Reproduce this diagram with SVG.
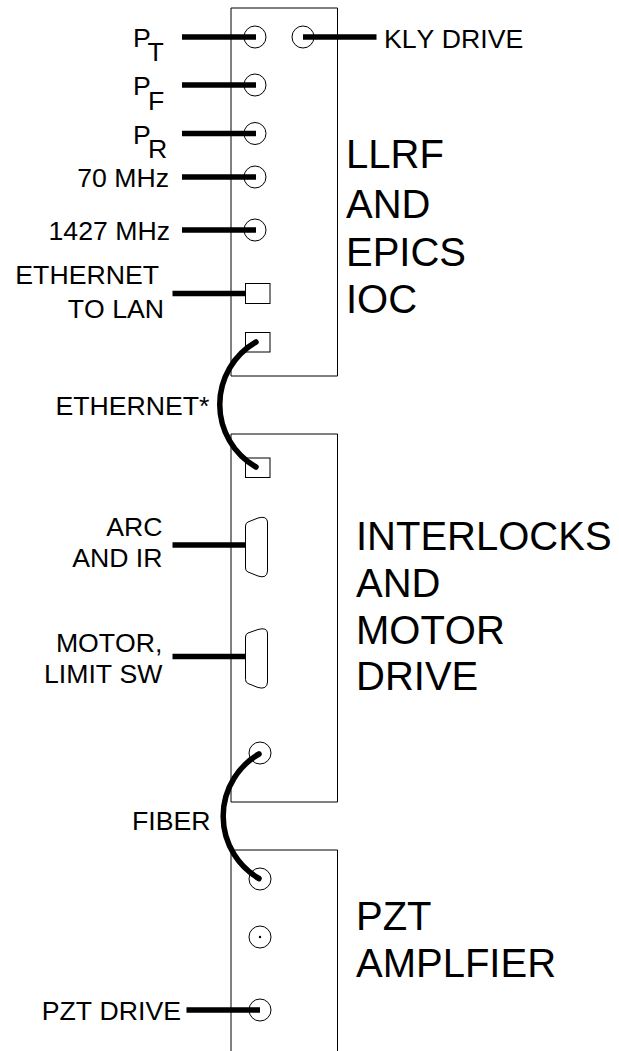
<svg xmlns="http://www.w3.org/2000/svg" width="619" height="1051" viewBox="0 0 619 1051">
<style>
text{font-family:"Liberation Sans",Arial,sans-serif;fill:#000;font-kerning:none}
.s{font-size:26.67px}
.l{font-size:40px}
.b{fill:none;stroke:#000;stroke-width:1}
.p{fill:#fff;stroke:#000;stroke-width:1}
.w{fill:none;stroke:#000;stroke-width:5.5;stroke-linecap:butt}
.c{fill:none;stroke:#000;stroke-width:5.5;stroke-linecap:round}
.e{text-anchor:end}
</style>
<rect width="619" height="1051" fill="#fff"/>
<g id="box-llrf"><path class="b" d="M231 376V8H337.5V376H231"/>
<text class="l" x="346" y="168">LLRF</text><text class="l" x="346" y="218">AND</text><text class="l" x="346" y="266">EPICS</text><text class="l" x="346" y="312.5">IOC</text></g>
<g id="box-interlocks"><path class="b" d="M231 802V434H337.5V802H231"/>
<text class="l" x="356" y="550">INTERLOCKS</text><text class="l" x="356" y="596.5">AND</text><text class="l" x="356" y="644">MOTOR</text><text class="l" x="356" y="690">DRIVE</text></g>
<g id="box-pzt"><path class="b" d="M231 1051V850H337.5V1051"/>
<text class="l" x="356" y="930">PZT</text><text class="l" x="356" y="976.5">AMPLFIER</text></g>
<g id="port-pt"><circle class="b" cx="255" cy="37" r="11"/><text class="s" x="133" y="46.5">P<tspan dx="-3.3" dy="14">T</tspan></text></g>
<g id="port-kly"><circle class="b" cx="303" cy="37" r="11"/><text class="s" x="384" y="47.5">KLY DRIVE</text></g>
<g id="port-pf"><circle class="b" cx="255" cy="85" r="11"/><text class="s" x="133" y="95">P<tspan dx="-2.8" dy="14.5">F</tspan></text></g>
<g id="port-pr"><circle class="b" cx="255" cy="133.5" r="11"/><text class="s" x="133" y="143.5">P<tspan dx="-2.8" dy="14">R</tspan></text></g>
<g id="port-70"><circle class="b" cx="255" cy="177" r="11"/><text class="s e" x="169" y="186.5">70 MHz</text></g>
<g id="port-1427"><circle class="b" cx="255" cy="230" r="11"/><text class="s e" x="170" y="239.5">1427 MHz</text></g>
<g id="port-lan"><rect class="p" x="245.5" y="283.5" width="24.5" height="20"/><text class="s e" x="159" y="283.5">ETHERNET</text><text class="s e" x="164" y="317.5">TO LAN</text></g>
<g id="port-eth1"><rect class="p" x="245.5" y="332.5" width="24.5" height="19.5"/></g>
<g id="port-eth2"><rect class="p" x="245.5" y="458" width="24.5" height="19.5"/></g>
<g id="port-arc"><path class="p" d="M245.5 526Q245.5 523 248 522L258 518Q267 515.5 267.5 522V571Q267 579 258 576L248 572Q245.5 571 245.5 568Z"/><text class="s e" x="162.5" y="536">ARC</text><text class="s e" x="162.5" y="566.5">AND IR</text></g>
<g id="port-motor"><path class="p" d="M245.5 637Q245.5 634 248 633L258 629.5Q267 627 267.5 633V682Q267 690 258 687.5L248 683.5Q245.5 682.5 245.5 679.5Z"/><text class="s e" x="162.5" y="651.5">MOTOR,</text><text class="s e" x="162.5" y="682.5">LIMIT SW</text></g>
<g id="port-fiber1"><circle class="b" cx="260" cy="753" r="11"/></g>
<g id="port-fiber2"><circle class="b" cx="260" cy="879" r="11"/></g>
<g id="port-mid"><circle class="b" cx="260" cy="937" r="11"/><circle cx="260" cy="937" r="1.2" fill="#000"/></g>
<g id="port-pzt"><circle class="b" cx="260" cy="1010" r="11"/><text class="s e" x="181" y="1020">PZT DRIVE</text></g>
<text class="s e" x="209.5" y="414.5">ETHERNET*</text>
<text class="s e" x="210.5" y="830">FIBER</text>
<g id="connectors">
<path class="w" d="M182 37H256M303 37H376.5M182 85H256M182 133.5H256M182 177H256M182 230H256M172.5 293.5H245M172.5 545H245M172.5 656.5H245M186.5 1010H260"/>
<path class="c" d="M256 342A72 72 0 0 0 256 467"/>
<path class="c" d="M259 754A72 72 0 0 0 259 878.5"/>
</g>
</svg>
